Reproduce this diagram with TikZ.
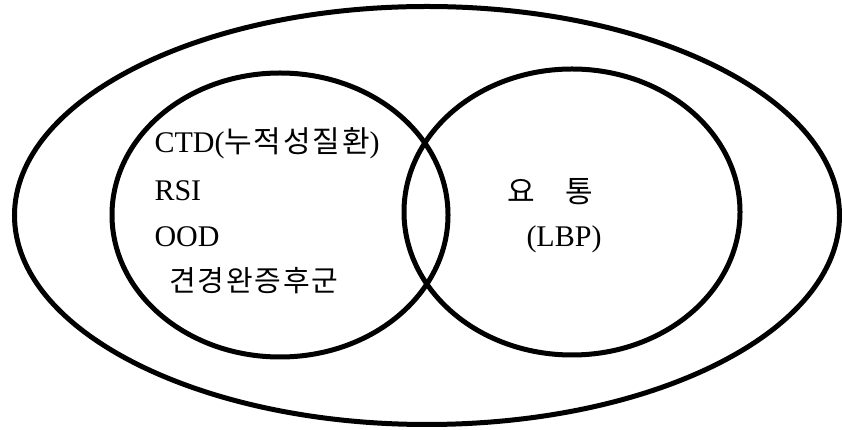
\documentclass[tikz,border=0pt]{standalone}
\usepackage{fontspec}
\setmainfont{Liberation Serif}
\newfontfamily\kr[LetterSpace=6]{Noto Sans CJK KR}
\usepackage{tikz}

\begin{document}
\begin{tikzpicture}[x=1pt, y=1pt, line width=5pt,
    txt/.style={inner sep=0pt, font=\fontsize{30}{36}\selectfont}]
        \useasboundingbox (0,0) rectangle (842,430);

        % Outer set (solid)
        \draw (427,214.5) ellipse [x radius=412.5, y radius=209];

        % Left and right sets
        \draw (280,215) ellipse [x radius=168, y radius=142];
        \draw (572,218) ellipse [x radius=168, y radius=143];

        % Left set labels
        \node[txt, anchor=base west] (ctd) at (152,277) {CTD({\kr 누적성질환})};
        \node[txt, anchor=base west] (rsi) at (152,229) {RSI};
        \node[txt, anchor=base west] (ood) at (152,183) {OOD};
        \node[txt, anchor=west, font=\fontsize{29}{36}\kr] (neck) at (167,149) {견경완증후군};

        % Right set labels
        \node[txt, anchor=west, font=\fontsize{30}{36}\kr] (lbpk) at (505,238) {요\quad 통};
        \node[txt, anchor=base west] (lbp) at (524,183.5) {(LBP)};
    \end{tikzpicture}
\end{document}
